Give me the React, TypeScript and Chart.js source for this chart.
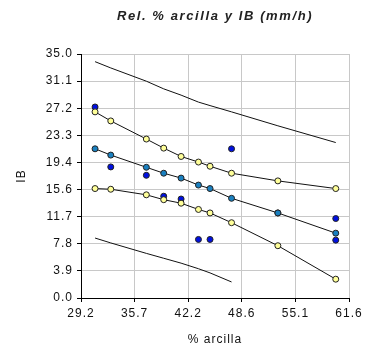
import React, { useEffect, useRef } from "react";
import { Chart, registerables } from "chart.js";

Chart.register(...registerables);

// x positions (% arcilla) of the fitted / band series
const xValues = [30.9, 32.8, 37.1, 39.2, 41.3, 43.4, 44.8, 47.4, 53.0, 60.0];
// prediction interval (black lines)
const upperPred = [33.9, 33.0, 31.1, 30.0, 29.1, 28.1, 27.6, 26.7, 24.7, 22.3];
const lowerPred: (number | null)[] = [8.6, 7.9, 6.4, 5.7, 5.0, 4.2, 3.6, 2.3, null, null];
// confidence band (yellow points)
const upperConf = [26.7, 25.4, 22.8, 21.5, 20.3, 19.5, 18.9, 17.9, 16.8, 15.7];
const lowerConf = [15.7, 15.6, 14.8, 14.1, 13.6, 12.7, 12.2, 10.8, 7.5, 2.7];
// fitted regression values (teal points)
const fitted = [21.4, 20.5, 18.75, 17.9, 17.2, 16.2, 15.7, 14.3, 12.2, 9.3];
// observed data (blue points)
const obsX = [30.9, 32.8, 37.1, 39.2, 41.3, 43.4, 44.8, 47.4, 53.0, 60.0, 60.0];
const obsY = [27.4, 18.8, 17.6, 14.6, 14.2, 8.4, 8.4, 21.4, 12.2, 11.4, 8.3];

const xTickLabels = ["29.2", "35.7", "42.2", "48.6", "55.1", "61.6"];
const yTickLabels = ["0.0", "3.9", "7.8", "11.7", "15.6", "19.4", "23.3", "27.2", "31.1", "35.0"];
const xMin = 29.2;
const xMax = 61.6;
const yMin = 0;
const yMax = 35;

const titleText = "Rel. % arcilla y IB (mm/h)";
const xTitle = "% arcilla";
const yTitle = "IB";

const FONT = "'Liberation Sans', Arial, sans-serif";

function pts(xs: number[], ys: (number | null)[]) {
  return xs.map((x, i) => ({ x, y: ys[i] }));
}

const spacingPlugin = {
  id: "spacing",
  beforeDraw(chart: any) {
    chart.ctx.letterSpacing = "1px";
    const tb = chart.titleBlock;
    if (tb && !tb.__wrapped) {
      const orig = tb.draw.bind(tb);
      tb.draw = (...args: any[]) => {
        const ctx = chart.ctx;
        const prev = ctx.letterSpacing;
        ctx.letterSpacing = "1.6px";
        orig(...args);
        ctx.letterSpacing = prev;
      };
      tb.__wrapped = true;
    }
  },
};

export default function App() {
  const ref = useRef<HTMLCanvasElement | null>(null);

  useEffect(() => {
    document.body.style.margin = "0";
    const canvas = ref.current;
    if (!canvas) return;

    const marker = (fill: string) => ({
      pointRadius: 3,
      pointHoverRadius: 3,
      pointBackgroundColor: fill,
      pointBorderColor: "#222",
      pointBorderWidth: 1,
    });

    const chart = new Chart(canvas, {
      type: "scatter",
      data: {
        datasets: [
          {
            label: "sup. pred",
            data: pts(xValues, upperPred),
            showLine: true,
            borderColor: "#111",
            borderWidth: 1,
            pointRadius: 0,
            fill: false,
          },
          {
            label: "inf. pred",
            data: pts(xValues, lowerPred),
            showLine: true,
            borderColor: "#111",
            borderWidth: 1,
            pointRadius: 0,
            fill: false,
          },
          {
            label: "sup. conf",
            data: pts(xValues, upperConf),
            showLine: true,
            borderColor: "#111",
            borderWidth: 1,
            ...marker("#FFFF99"),
          },
          {
            label: "inf. conf",
            data: pts(xValues, lowerConf),
            showLine: true,
            borderColor: "#111",
            borderWidth: 1,
            ...marker("#FFFF99"),
          },
          {
            label: "ajuste",
            data: pts(xValues, fitted),
            showLine: true,
            borderColor: "#111",
            borderWidth: 1,
            ...marker("#1A80C0"),
          },
          {
            label: "IB",
            data: pts(obsX, obsY),
            showLine: false,
            ...marker("#0010E0"),
          },
        ],
      },
      options: {
        responsive: false,
        animation: false,
        layout: { padding: { left: 0, right: 16, top: 0, bottom: 0 } },
        plugins: {
          legend: { display: false },
          tooltip: { enabled: false },
          title: {
            display: true,
            text: titleText,
            fullSize: false,
            color: "#222",
            font: { family: FONT, size: 13, weight: "bold", style: "italic" },
            padding: { top: 9, bottom: 29.4 },
          },
        },
        scales: {
          x: {
            type: "linear",
            min: xMin,
            max: xMax,
            afterBuildTicks: (scale: any) => {
              scale.ticks = xTickLabels.map((_, i) => ({
                value: xMin + (i * (xMax - xMin)) / (xTickLabels.length - 1),
              }));
            },
            afterFit: (scale: any) => {
              scale.height = 53;
            },
            ticks: {
              autoSkip: false,
              maxRotation: 0,
              padding: 4,
              color: "#111",
              font: { family: FONT, size: 12 },
              callback: (_v: any, i: number) => xTickLabels[i],
            },
            grid: { color: "#C8C8C8", lineWidth: 1, tickLength: 4, tickColor: "#000" },
            border: { color: "#000", width: 1 },
            title: {
              display: true,
              text: xTitle,
              color: "#111",
              font: { family: FONT, size: 12 },
              padding: { top: 0, bottom: 4 },
            },
          },
          y: {
            type: "linear",
            min: yMin,
            max: yMax,
            afterBuildTicks: (scale: any) => {
              scale.ticks = yTickLabels.map((_, i) => ({
                value: yMin + (i * (yMax - yMin)) / (yTickLabels.length - 1),
              }));
            },
            afterFit: (scale: any) => {
              scale.width = 81;
            },
            ticks: {
              autoSkip: false,
              padding: 4,
              color: "#111",
              font: { family: FONT, size: 12 },
              callback: (_v: any, i: number) => yTickLabels[i],
            },
            grid: { color: "#C8C8C8", lineWidth: 1, tickLength: 4, tickColor: "#000" },
            border: { color: "#000", width: 1 },
            title: {
              display: true,
              text: yTitle,
              color: "#111",
              font: { family: FONT, size: 12 },
              padding: { top: 14, bottom: 0 },
            },
          },
        },
      },
      plugins: [spacingPlugin],
    } as any);

    return () => chart.destroy();
  }, []);

  return (
    <div style={{ width: 365, height: 351 }}>
      <canvas ref={ref} width={365} height={351} style={{ display: "block" }} />
    </div>
  );
}
